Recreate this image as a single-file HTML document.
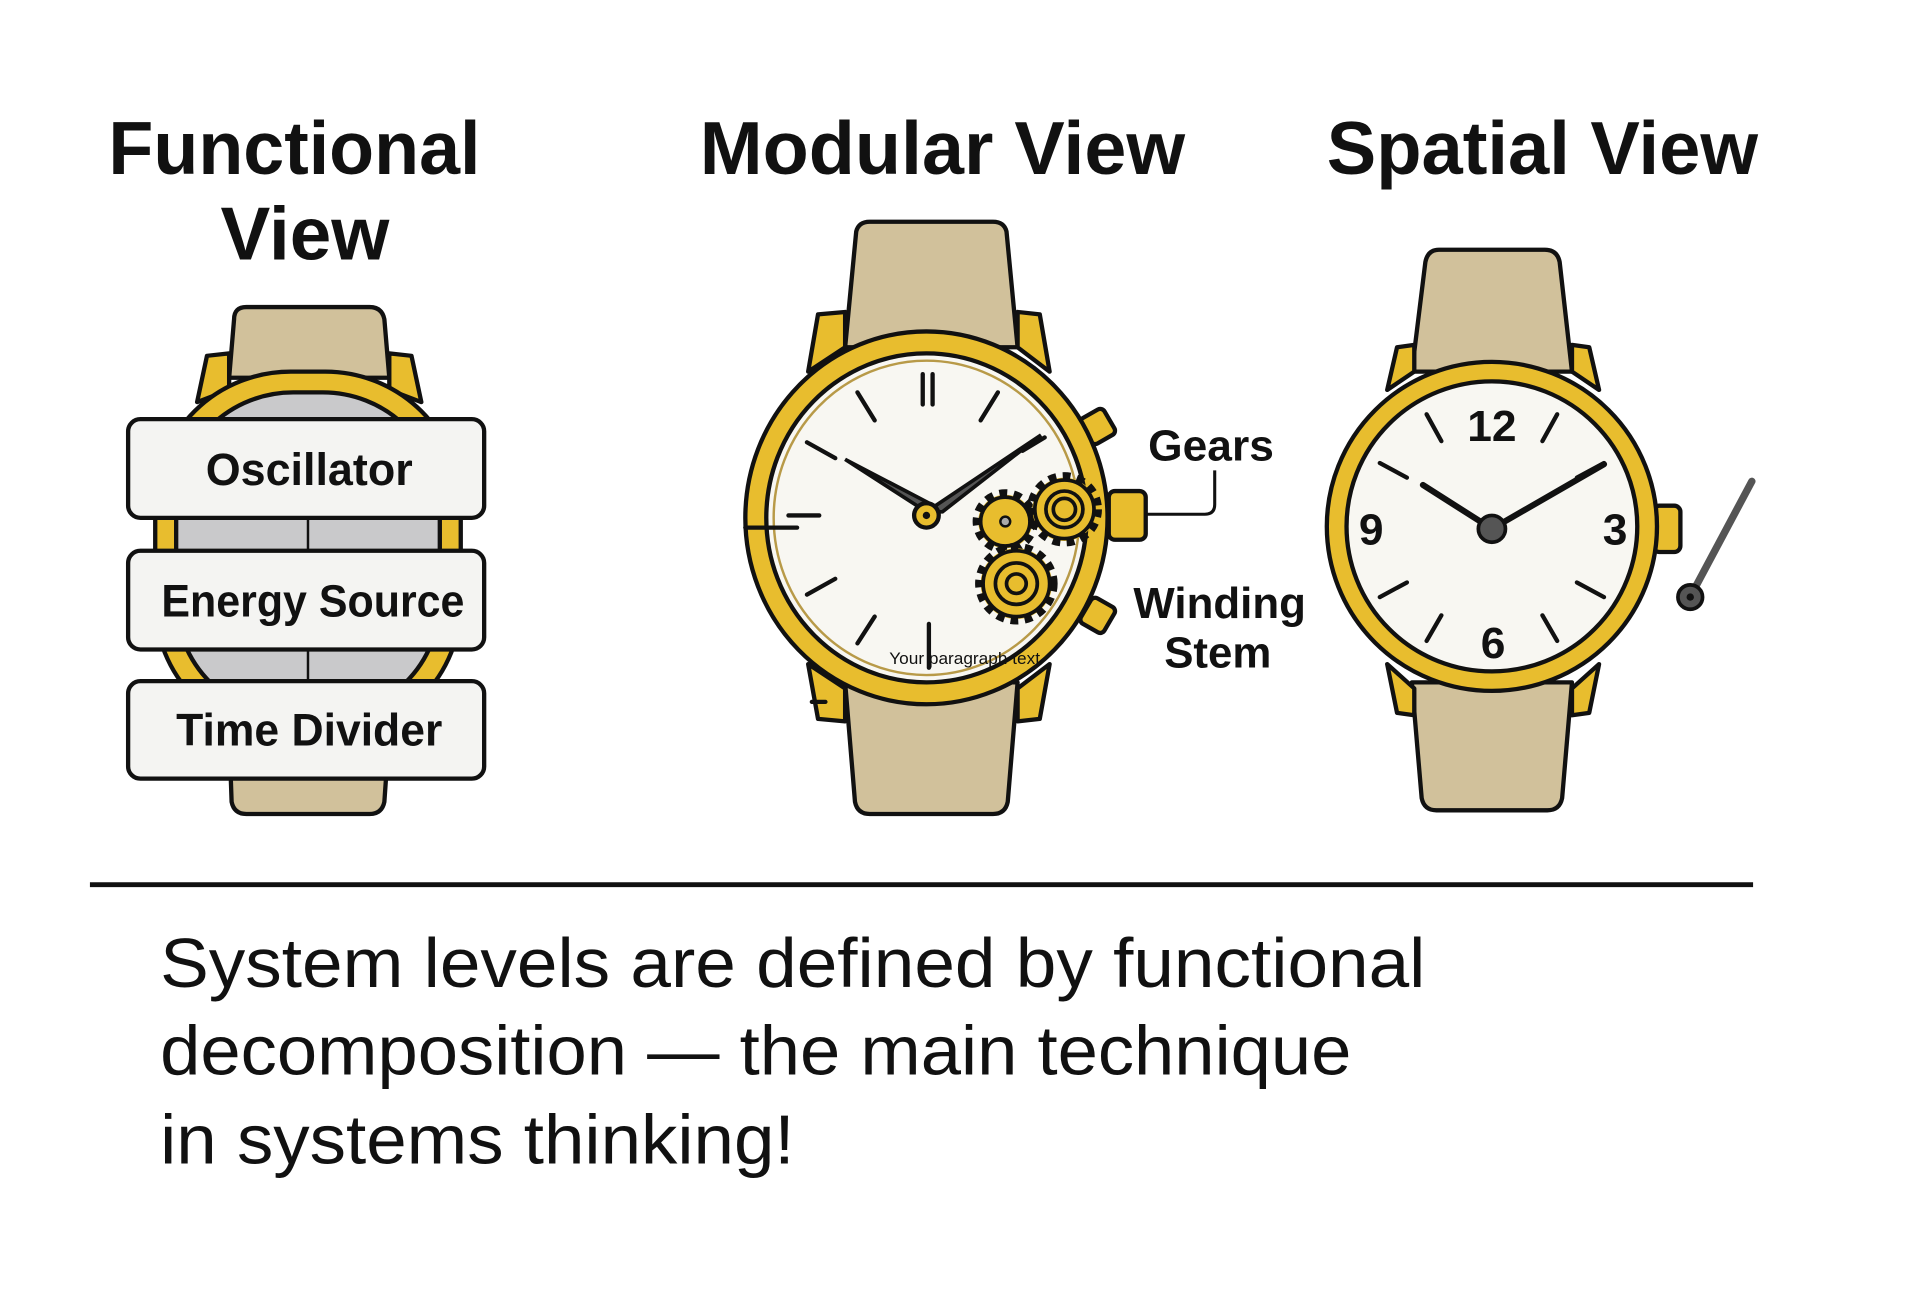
<!DOCTYPE html>
<html><head><meta charset="utf-8"><style>
html,body{margin:0;padding:0;background:#fff;width:1912px;height:1316px;overflow:hidden}
svg{display:block}
text{font-family:"Liberation Sans",sans-serif;fill:#111}
</style></head><body>
<svg width="1912" height="1316" viewBox="0 0 1552 1080" preserveAspectRatio="none" xmlns="http://www.w3.org/2000/svg">
<rect width="1552" height="1080" fill="#fff"/>
<g font-weight="bold" font-size="62" lengthAdjust="spacingAndGlyphs">
<text x="88" y="143" textLength="302" lengthAdjust="spacingAndGlyphs">Functional</text>
<text x="179" y="213" textLength="137" lengthAdjust="spacingAndGlyphs">View</text>
<text x="568" y="143" textLength="394" lengthAdjust="spacingAndGlyphs">Modular View</text>
<text x="1077" y="143" textLength="350" lengthAdjust="spacingAndGlyphs">Spatial View</text>
</g>

<!-- Functional watch -->
<g stroke="#111" stroke-width="3.5" stroke-linejoin="round">
<path d="M190 262 Q190 252 200 252 L300 252 Q310 252 312 262 L316 310 L186 310 Z" fill="#d1c19b"/>
<path d="M186 600 L316 600 L312 658 Q310 668 300 668 L200 668 Q190 668 188 658 Z" fill="#d1c19b"/>
<path d="M160 330 L168 292 L186 290 L186 320 Z" fill="#e8bd2e"/>
<path d="M342 330 L334 292 L316 290 L316 320 Z" fill="#e8bd2e"/>
<rect x="126" y="305" width="248" height="300" rx="110" fill="#e8bd2e"/>
<rect x="143" y="322" width="214" height="266" rx="95" fill="#c9c9cb"/>
<line x1="250" y1="425" x2="250" y2="452" stroke-width="2"/>
<line x1="250" y1="533" x2="250" y2="559" stroke-width="2"/>
<rect x="104" y="344" width="289" height="81" rx="10" fill="#f4f4f2"/>
<rect x="104" y="452" width="289" height="81" rx="10" fill="#f4f4f2"/>
<rect x="104" y="559" width="289" height="80" rx="10" fill="#f4f4f2"/>
</g>
<g font-size="37" font-weight="bold">
<text x="167" y="398" textLength="168" lengthAdjust="spacingAndGlyphs">Oscillator</text>
<text x="131" y="506" textLength="246" lengthAdjust="spacingAndGlyphs">Energy Source</text>
<text x="143" y="612" textLength="216" lengthAdjust="spacingAndGlyphs">Time Divider</text>
</g>

<!-- Modular watch -->
<g stroke="#111" stroke-width="3.5" stroke-linejoin="round">
<path d="M695 190 Q697 182 706 182 L806 182 Q815 182 817 190 L826 285 L686 285 Z" fill="#d1c19b"/>
<path d="M686 560 L826 560 L818 658 Q816 668 806 668 L706 668 Q696 668 694 658 Z" fill="#d1c19b"/>
<path d="M656 305 L664 258 L686 256 L686 285 Z" fill="#e8bd2e"/>
<path d="M852 305 L844 258 L826 256 L826 285 Z" fill="#e8bd2e"/>
<path d="M656 545 L664 590 L686 592 L686 565 Z" fill="#e8bd2e"/>
<path d="M852 545 L844 590 L826 592 L826 565 Z" fill="#e8bd2e"/>
<rect x="880" y="338" width="22" height="24" rx="4" transform="rotate(-30 891 350)" fill="#e8bd2e"/>
<rect x="880" y="493" width="22" height="24" rx="4" transform="rotate(30 891 505)" fill="#e8bd2e"/>
<rect x="900" y="403" width="30" height="40" rx="5" fill="#e8bd2e"/>
<ellipse cx="752" cy="425" rx="147" ry="153" fill="#e8bd2e"/>
<ellipse cx="752" cy="425" rx="130" ry="135" fill="#f8f7f2"/>
<ellipse cx="752" cy="425" rx="124" ry="129" fill="none" stroke="#b89a48" stroke-width="2"/>
</g>
<g stroke="#111" stroke-width="3.5" stroke-linecap="round">
<line x1="749" y1="307" x2="749" y2="332"/><line x1="757" y1="307" x2="757" y2="332"/>
<line x1="696" y1="322" x2="710" y2="345"/><line x1="810" y1="322" x2="796" y2="345"/>
<line x1="655" y1="363" x2="678" y2="376"/><line x1="848" y1="359" x2="830" y2="370"/>
<line x1="640" y1="423" x2="665" y2="423"/><line x1="605" y1="433" x2="647" y2="433"/>
<line x1="655" y1="488" x2="678" y2="475"/>
<line x1="696" y1="528" x2="710" y2="506"/>
<line x1="754" y1="512" x2="754" y2="548"/>
<line x1="659" y1="576" x2="670" y2="576"/>
<path d="M686 377 L752 420 L760 416 Z" fill="#555" stroke-width="3"/>
<path d="M845 357 L752 420 L765 420 Z" fill="#555" stroke-width="3"/>
</g>
<circle cx="752" cy="423" r="10" fill="#e8bd2e" stroke="#111" stroke-width="3.5"/>
<circle cx="752" cy="423" r="3" fill="#111"/>
<g fill="#e8bd2e" stroke="#111" stroke-width="3">
<circle cx="816" cy="428" r="22" stroke-width="9" stroke-dasharray="6 5"/>
<circle cx="816" cy="428" r="20"/>
<circle cx="816" cy="428" r="4" fill="#aaa" stroke-width="2"/>
<circle cx="864" cy="418" r="26" stroke-width="9" stroke-dasharray="6 5"/>
<circle cx="864" cy="418" r="24"/>
<circle cx="864" cy="418" r="15"/><circle cx="864" cy="418" r="9"/>
<circle cx="825" cy="479" r="29" stroke-width="9" stroke-dasharray="6 5"/>
<circle cx="825" cy="479" r="27"/>
<circle cx="825" cy="479" r="17"/><circle cx="825" cy="479" r="8"/>
</g>
<text x="783" y="545" font-size="14" text-anchor="middle" fill="#222">Your paragraph text</text>
<path d="M986 386 L986 414 Q986 422 978 422 L930 422" fill="none" stroke="#111" stroke-width="2.5"/>
<g font-size="36" font-weight="bold">
<text x="932" y="378" textLength="102" lengthAdjust="spacingAndGlyphs">Gears</text>
<text x="920" y="507" textLength="140" lengthAdjust="spacingAndGlyphs">Winding</text>
<text x="945" y="548" textLength="87" lengthAdjust="spacingAndGlyphs">Stem</text>
</g>

<!-- Spatial watch -->
<g stroke="#111" stroke-width="3.5" stroke-linejoin="round">
<path d="M1157 215 Q1159 205 1168 205 L1254 205 Q1264 205 1266 215 L1276 305 L1146 305 Z" fill="#d1c19b"/>
<path d="M1146 560 L1276 560 L1268 655 Q1266 665 1256 665 L1166 665 Q1156 665 1154 655 Z" fill="#d1c19b"/>
<path d="M1126 320 L1134 285 L1148 283 L1148 305 Z" fill="#e8bd2e"/>
<path d="M1298 320 L1290 285 L1276 283 L1276 305 Z" fill="#e8bd2e"/>
<path d="M1126 545 L1134 585 L1148 587 L1148 565 Z" fill="#e8bd2e"/>
<path d="M1298 545 L1290 585 L1276 587 L1276 565 Z" fill="#e8bd2e"/>
<rect x="1342" y="415" width="22" height="38" rx="5" fill="#e8bd2e"/>
<ellipse cx="1211" cy="432" rx="134" ry="135" fill="#e8bd2e"/>
<ellipse cx="1211" cy="432" rx="118" ry="119" fill="#f8f7f2"/>
<line x1="1422" y1="395" x2="1374" y2="486" stroke="#555" stroke-width="6" stroke-linecap="round"/>
</g>
<circle cx="1372" cy="490" r="10" fill="#555" stroke="#111" stroke-width="3"/>
<circle cx="1372" cy="490" r="3" fill="#111"/>
<g stroke="#111" stroke-width="3.5" stroke-linecap="round">
<line x1="1158" y1="340" x2="1170" y2="362"/><line x1="1264" y1="340" x2="1252" y2="362"/>
<line x1="1120" y1="380" x2="1142" y2="392"/><line x1="1302" y1="380" x2="1280" y2="392"/>
<line x1="1120" y1="490" x2="1142" y2="478"/><line x1="1302" y1="490" x2="1280" y2="478"/>
<line x1="1158" y1="526" x2="1170" y2="505"/><line x1="1264" y1="526" x2="1252" y2="505"/>
<line x1="1155" y1="398" x2="1211" y2="434" stroke-width="5"/>
<line x1="1302" y1="381" x2="1211" y2="434" stroke-width="5"/>
</g>
<circle cx="1211" cy="434" r="11" fill="#555" stroke="#111" stroke-width="3"/>
<g font-size="36" font-weight="bold" text-anchor="middle">
<text x="1211" y="362">12</text>
<text x="1113" y="447">9</text>
<text x="1311" y="447">3</text>
<text x="1212" y="540">6</text>
</g>

<line x1="73" y1="726" x2="1423" y2="726" stroke="#111" stroke-width="4"/>
<g font-size="57">
<text x="130" y="810" textLength="1027" lengthAdjust="spacingAndGlyphs">System levels are defined by functional</text>
<text x="130" y="882" textLength="967" lengthAdjust="spacingAndGlyphs">decomposition — the main technique</text>
<text x="130" y="955" textLength="515" lengthAdjust="spacingAndGlyphs">in systems thinking!</text>
</g>
</svg>
</body></html>
